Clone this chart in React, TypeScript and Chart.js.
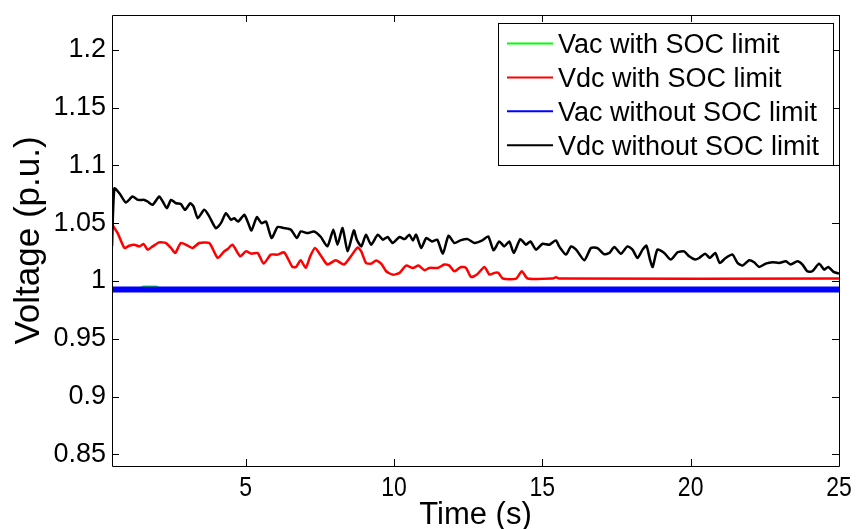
import React, { useEffect, useRef } from "react";
import { Chart, registerables } from "chart.js";

Chart.register(...registerables);

const xTicks = [5, 10, 15, 20, 25];
const yTicks = [0.85, 0.9, 0.95, 1, 1.05, 1.1, 1.15, 1.2];

const seriesLabels = [
  "Vac with SOC limit",
  "Vdc with SOC limit",
  "Vac without SOC limit",
  "Vdc without SOC limit",
];
const seriesColors = ["#00ff00", "#ff0000", "#0000ff", "#000000"];

// Vdc without SOC limit (black)
const tVdcNoSoc = [
  0.5, 0.58, 0.75, 0.97, 1.19, 1.37, 1.59, 1.7, 1.87, 2.09, 2.21, 2.35, 2.49, 2.66, 2.82, 2.96,
  3.14, 3.25, 3.39, 3.61, 3.78, 4.0, 4.17, 4.34, 4.51, 4.62, 4.75, 4.96, 5.07, 5.2, 5.38, 5.54,
  5.69, 5.88, 6.08, 6.3, 6.53, 6.73, 6.86, 7.09, 7.31, 7.54, 7.76, 7.96, 8.1, 8.27, 8.44, 8.65,
  8.75, 8.9, 9.06, 9.23, 9.46, 9.63, 9.79, 9.96, 10.19, 10.36, 10.52, 10.64, 10.75, 10.92, 11.09,
  11.28, 11.46, 11.65, 11.84, 12.04, 12.24, 12.49, 12.71, 12.96, 13.18, 13.36, 13.55, 13.72,
  13.89, 14.04, 14.26, 14.45, 14.6, 14.79, 15.01, 15.24, 15.46, 15.57, 15.8, 15.97, 16.14, 16.42,
  16.64, 16.86, 17.08, 17.26, 17.43, 17.65, 17.87, 18.04, 18.21, 18.38, 18.51, 18.63, 18.72,
  18.88, 19.11, 19.33, 19.56, 19.78, 19.95, 20.15, 20.29, 20.49, 20.65, 20.83, 20.98, 21.18,
  21.41, 21.58, 21.75, 21.97, 22.14, 22.31, 22.53, 22.76, 22.98, 23.21, 23.37, 23.6, 23.77,
  23.93, 24.1, 24.33, 24.5, 24.64, 24.83, 25.0,
];
const vdcNoSoc = [
  1.03, 1.08, 1.0758, 1.0678, 1.073, 1.0701, 1.0701, 1.0687, 1.0658, 1.073, 1.0687, 1.0629,
  1.0701, 1.0672, 1.0666, 1.0615, 1.0672, 1.0643, 1.0543, 1.0615, 1.0557, 1.0457, 1.05, 1.0586,
  1.0529, 1.0543, 1.0514, 1.0572, 1.0514, 1.0437, 1.0552, 1.05, 1.0514, 1.0371, 1.0466, 1.0457,
  1.0443, 1.0371, 1.0428, 1.0414, 1.0428, 1.038, 1.0299, 1.0443, 1.0314, 1.0457, 1.0256, 1.0437,
  1.0357, 1.0299, 1.04, 1.0314, 1.04, 1.0357, 1.038, 1.0328, 1.038, 1.0362, 1.04, 1.0351, 1.04,
  1.0285, 1.0371, 1.0342, 1.0357, 1.0236, 1.0391, 1.0328, 1.0351, 1.0362, 1.0328, 1.0348,
  1.0385, 1.0265, 1.0342, 1.0299, 1.0342, 1.0242, 1.0362, 1.0314, 1.0342, 1.0271, 1.0322,
  1.0314, 1.0351, 1.0299, 1.0228, 1.0299, 1.0271, 1.0179, 1.0285, 1.0285, 1.0232, 1.0242,
  1.0294, 1.0236, 1.0299, 1.0271, 1.0199, 1.0271, 1.0305, 1.0185, 1.0121, 1.0271, 1.0242,
  1.0185, 1.0248, 1.0256, 1.0213, 1.0185, 1.0199, 1.0236, 1.0199, 1.0242, 1.0156, 1.0199,
  1.0228, 1.0156, 1.0133, 1.0179, 1.0162, 1.0121, 1.015, 1.0162, 1.0156, 1.017, 1.0142, 1.017,
  1.0142, 1.0084, 1.0084, 1.015, 1.0098, 1.0121, 1.0076, 1.0064,
];

// Vdc with SOC limit (red)
const tVdcSoc = [
  0.5, 0.69, 0.92, 1.08, 1.25, 1.42, 1.57, 1.7, 1.87, 2.09, 2.32, 2.49, 2.63, 2.82, 3.05, 3.22,
  3.44, 3.78, 4.06, 4.28, 4.4, 4.56, 4.82, 5.01, 5.2, 5.41, 5.61, 5.85, 6.08, 6.3, 6.58, 6.7,
  6.86, 7.03, 7.18, 7.34, 7.54, 7.76, 8.04, 8.32, 8.55, 8.78, 8.9, 9.06, 9.23, 9.4, 9.57, 9.74,
  9.96, 10.19, 10.41, 10.64, 10.83, 11.03, 11.2, 11.48, 11.7, 11.87, 12.04, 12.26, 12.43, 12.6,
  12.8, 13.05, 13.22, 13.39, 13.52, 13.67, 14.12, 14.31, 14.51, 15.35, 15.46, 15.57, 25.0,
];
const vdcSoc = [
  1.049, 1.0414, 1.0285, 1.0305, 1.0314, 1.0299, 1.0319, 1.0271, 1.0299, 1.0334, 1.0328,
  1.0285, 1.0242, 1.0328, 1.0305, 1.0285, 1.0328, 1.0328, 1.0199, 1.0256, 1.0276, 1.0314,
  1.0213, 1.0256, 1.0236, 1.0242, 1.015, 1.0228, 1.0228, 1.0248, 1.0121, 1.0121, 1.0179,
  1.0113, 1.0213, 1.0285, 1.0219, 1.0142, 1.0179, 1.0142, 1.0213, 1.029, 1.0256, 1.0156, 1.015,
  1.0176, 1.015, 1.0084, 1.0055, 1.007, 1.0133, 1.0113, 1.0133, 1.0093, 1.0113, 1.0113, 1.0142,
  1.0133, 1.0084, 1.0121, 1.0113, 1.0035, 1.0055, 1.0121, 1.0055, 1.007, 1.007, 1.0021, 1.0021,
  1.0084, 1.0021, 1.0021, 1.0032, 1.0021, 1.0021,
];

// Vac with SOC limit (green)
const tVacSoc = [0.5, 1.45, 1.55, 2.0, 2.1, 25.0];
const vacSoc = [0.9934, 0.9934, 0.9952, 0.9952, 0.9934, 0.9934];

// Vac without SOC limit (blue)
const tVacNoSoc = [0.5, 25.0];
const vacNoSoc = [0.9926, 0.9926];

const zip = (xs: number[], ys: number[]) => xs.map((x, i) => ({ x, y: ys[i] }));

const SANS = "'Liberation Sans', Arial, Helvetica, sans-serif";

const framePlugin = {
  id: "frame",
  afterDatasetsDraw(chart: any) {
    const { ctx, chartArea: a, scales } = chart;
    const tl = 7;
    ctx.save();
    ctx.strokeStyle = "#000";
    ctx.lineWidth = 1;
    ctx.beginPath();
    ctx.rect(Math.round(a.left) + 0.5, Math.round(a.top) + 0.5, Math.round(a.right - a.left), Math.round(a.bottom - a.top));
    ctx.stroke();
    ctx.beginPath();
    xTicks.forEach((v) => {
      const px = Math.round(scales.x.getPixelForValue(v)) + 0.5;
      ctx.moveTo(px, a.bottom);
      ctx.lineTo(px, a.bottom - tl);
      ctx.moveTo(px, a.top);
      ctx.lineTo(px, a.top + tl);
    });
    yTicks.forEach((v) => {
      const py = Math.round(scales.y.getPixelForValue(v)) + 0.5;
      ctx.moveTo(a.left, py);
      ctx.lineTo(a.left + tl, py);
      ctx.moveTo(a.right, py);
      ctx.lineTo(a.right - tl, py);
    });
    ctx.stroke();
    ctx.restore();
  },
};

// x tick labels in a condensed face (the original uses a narrow font)
const xLabelPlugin = {
  id: "xLabels",
  afterDraw(chart: any) {
    const { ctx, scales, chartArea: a } = chart;
    ctx.save();
    ctx.fillStyle = "#000";
    ctx.font = `28px ${SANS}`;
    ctx.textAlign = "center";
    ctx.textBaseline = "alphabetic";
    scales.x.ticks.forEach((t: any) => {
      const px = scales.x.getPixelForValue(t.value);
      ctx.save();
      ctx.translate(px, a.bottom + 30);
      ctx.scale(0.82, 1);
      ctx.fillText(String(t.value), 0, 0);
      ctx.restore();
    });
    ctx.restore();
  },
};

const legendPlugin = {
  id: "matlabLegend",
  afterDraw(chart: any) {
    const { ctx } = chart;
    const boxL = 498.5, boxT = 23.5, boxW = 335, boxH = 142;
    ctx.save();
    ctx.fillStyle = "#fff";
    ctx.fillRect(boxL, boxT, boxW, boxH);
    ctx.strokeStyle = "#000";
    ctx.lineWidth = 1;
    ctx.strokeRect(boxL, boxT, boxW, boxH);
    ctx.font = `27px ${SANS}`;
    ctx.textBaseline = "alphabetic";
    ctx.textAlign = "left";
    chart.data.datasets.forEach((ds: any, i: number) => {
      const y = 43.5 + i * 33.9;
      ctx.strokeStyle = ds.borderColor;
      ctx.lineWidth = 2;
      ctx.beginPath();
      ctx.moveTo(507, y);
      ctx.lineTo(553, y);
      ctx.stroke();
      ctx.fillStyle = "#000";
      ctx.fillText(ds.label, 558, y + 9.7);
    });
    ctx.restore();
  },
};

export default function App() {
  const ref = useRef<HTMLCanvasElement | null>(null);
  useEffect(() => {
    if (!ref.current) return;
    const chart = new Chart(ref.current, {
      type: "line",
      data: {
        datasets: [
          { label: seriesLabels[0], data: zip(tVacSoc, vacSoc), borderColor: seriesColors[0], borderWidth: 2, order: 4 },
          { label: seriesLabels[1], data: zip(tVdcSoc, vdcSoc), borderColor: seriesColors[1], borderWidth: 2.5, order: 3, tension: 0.2 },
          { label: seriesLabels[2], data: zip(tVacNoSoc, vacNoSoc), borderColor: seriesColors[2], borderWidth: 6, order: 2 },
          { label: seriesLabels[3], data: zip(tVdcNoSoc, vdcNoSoc), borderColor: seriesColors[3], borderWidth: 2.5, order: 1, tension: 0.2 },
        ] as any,
      },
      options: {
        responsive: false,
        animation: false,
        devicePixelRatio: 1,
        parsing: false as any,
        elements: { point: { radius: 0 }, line: { fill: false } },
        layout: { padding: { top: 15, right: 18, left: 0, bottom: 0 } },
        plugins: { legend: { display: false }, tooltip: { enabled: false } },
        scales: {
          x: {
            type: "linear",
            min: 0.5,
            max: 25,
            grid: { display: false, drawTicks: false },
            border: { display: false },
            afterBuildTicks: (s: any) => {
              s.ticks = xTicks.map((v) => ({ value: v }));
            },
            afterFit: (s: any) => {
              s.height = 63;
              s.paddingLeft = 0;
              s.paddingRight = 0;
            },
            ticks: { display: false, autoSkip: false },
            title: {
              display: true,
              text: "Time (s)",
              color: "#000",
              font: { family: SANS, size: 31, lineHeight: 0.85 },
              padding: { top: 0, bottom: 0 },
            },
          },
          y: {
            type: "linear",
            min: 0.84,
            max: 1.23,
            grid: { display: false, drawTicks: false },
            border: { display: false },
            afterBuildTicks: (s: any) => {
              s.ticks = yTicks.map((v) => ({ value: v }));
            },
            afterFit: (s: any) => {
              s.width = 112;
              s.paddingTop = 0;
              s.paddingBottom = 0;
            },
            ticks: {
              color: "#000",
              font: { family: SANS, size: 27 },
              padding: 6,
              autoSkip: false,
              callback: (v: any) => String(v),
            },
            title: {
              display: true,
              text: "Voltage (p.u.)",
              color: "#000",
              font: { family: SANS, size: 35, lineHeight: 1 },
              padding: { top: 12, bottom: 0 },
            },
          },
        },
      } as any,
      plugins: [framePlugin, xLabelPlugin, legendPlugin],
    });
    return () => chart.destroy();
  }, []);
  return (
    <div style={{ position: "absolute", left: 0, top: 0, width: 857, height: 529, background: "#fff" }}>
      <canvas ref={ref} width={857} height={529} style={{ display: "block" }} />
    </div>
  );
}
